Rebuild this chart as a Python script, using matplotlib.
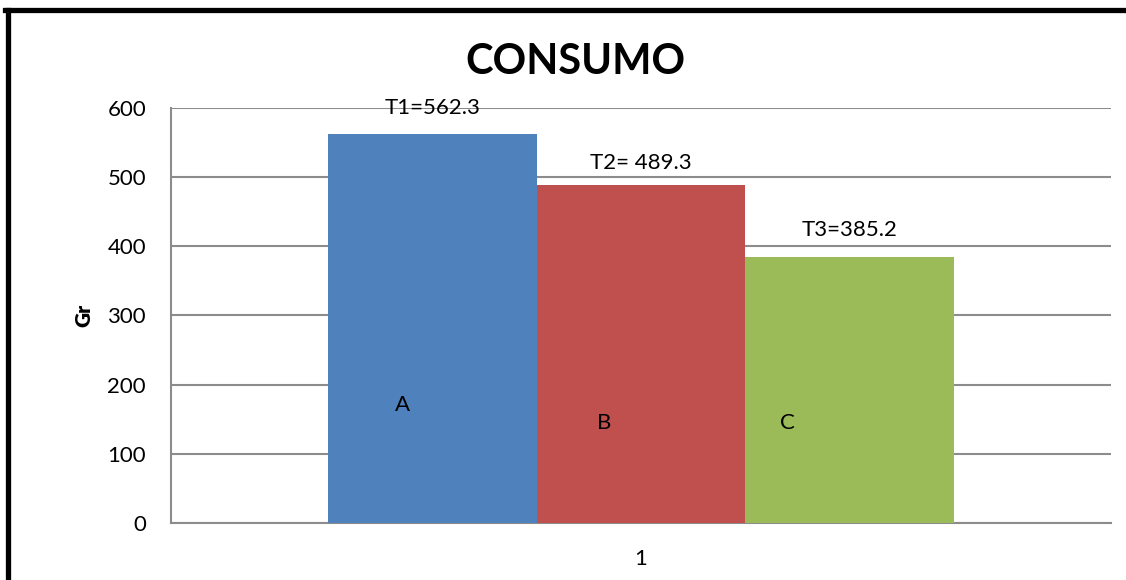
"""
Gráfico de barras: CONSUMO por tratamiento (T1, T2, T3).
"""
import matplotlib
matplotlib.use("Agg")
import matplotlib.pyplot as plt
from matplotlib.lines import Line2D

plt.rcParams["font.family"] = ["Lato", "DejaVu Sans"]

categorias = ["A", "B", "C"]
valores = [562.3, 489.3, 385.2]
etiquetas = ["T1=562.3", "T2= 489.3", "T3=385.2"]
colores = ["#4F81BD", "#C0504D", "#9BBB59"]
yticks = [0, 100, 200, 300, 400, 500, 600]


def plot_consumo():
    fig = plt.figure(figsize=(11.26, 5.8), dpi=100)
    ax = fig.add_axes([0.1519, 0.0983, 0.8348, 0.7155])

    ancho = 1 / 3
    pos = [-ancho, 0, ancho]
    ax.bar(pos, valores, width=ancho, color=colores, zorder=3)

    ax.set_xlim(-0.75, 0.75)
    ax.set_ylim(0, 600)
    ax.set_yticks(yticks)
    ax.set_xticks([0])
    ax.set_xticklabels(["1"])
    ax.tick_params(axis="both", length=0, labelsize=16)
    ax.tick_params(axis="y", pad=18)
    ax.tick_params(axis="x", pad=19)
    ax.grid(axis="y", color="#8c8c8c", linewidth=1.5, zorder=0)
    for s in ["top", "right"]:
        ax.spines[s].set_visible(False)
    for s in ["left", "bottom"]:
        ax.spines[s].set_color("#8c8c8c")
        ax.spines[s].set_linewidth(1.5)

    # etiquetas encima de cada barra
    dy = [37, 31, 38]
    for x, v, t, d in zip(pos, valores, etiquetas, dy):
        ax.text(x, v + d, t, ha="center", va="center", fontsize=16)

    # letras dentro de las barras
    letras_dx = [-0.047, -0.059, -0.099]
    letras_y = [170, 145, 145]
    for x, c, dx, y in zip(pos, categorias, letras_dx, letras_y):
        ax.text(x + dx, y, c, ha="center", va="center", fontsize=16)

    ax.set_ylabel("Gr", fontsize=15, fontweight="heavy", labelpad=10)
    fig.text(0.511, 0.893, "CONSUMO", ha="center", va="center",
             fontsize=30, fontweight="bold")

    # marco negro (borde izquierdo y superior)
    fig.add_artist(Line2D([0.0067, 0.0067], [0, 0.982], color="black",
                          linewidth=3.8, transform=fig.transFigure))
    fig.add_artist(Line2D([0.0045, 1.0], [0.982, 0.982], color="black",
                          linewidth=3.8, transform=fig.transFigure))

    fig.savefig("out.png", dpi=100)


if __name__ == "__main__":
    plot_consumo()
